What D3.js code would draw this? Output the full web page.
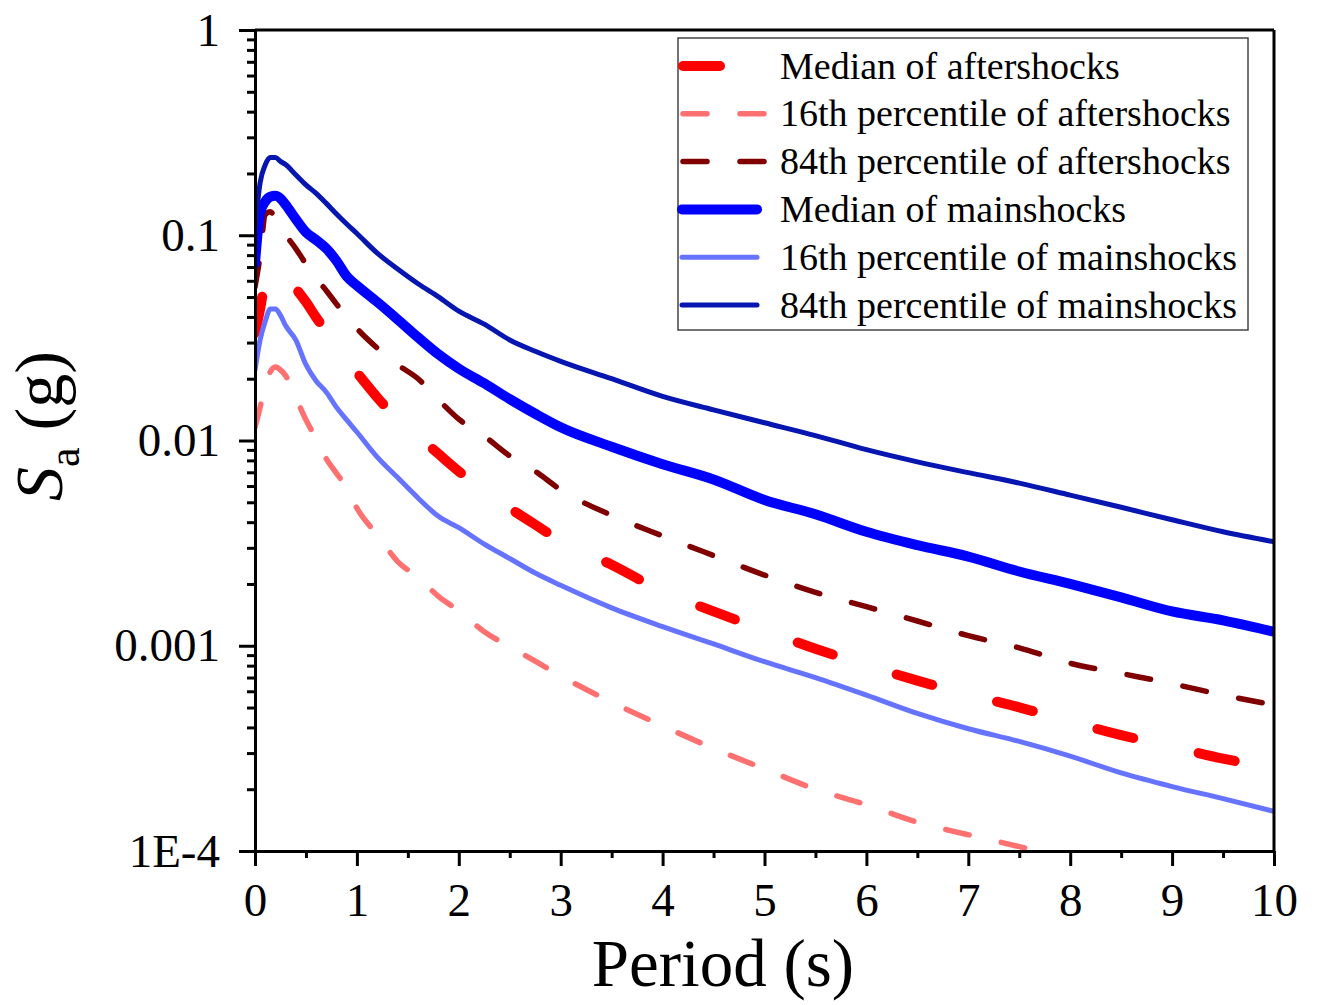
<!DOCTYPE html>
<html>
<head>
<meta charset="utf-8">
<script src="https://cdn.jsdelivr.net/npm/d3@7"></script>
<style>
  html, body { margin: 0; padding: 0; background: #fff; }
  svg { display: block; }
  text { font-family: "Liberation Serif", "Times New Roman", serif; fill: #000; }
</style>
</head>
<body>
<svg id="chart" width="1318" height="1005"></svg>
<script>
// Periods (s) at which the spectra are sampled
const periods = [0, 0.05, 0.1, 0.15, 0.2, 0.25, 0.3, 0.4, 0.5, 0.6, 0.7, 0.8, 0.9, 1.0,
  1.2, 1.4, 1.6, 1.8, 2.0, 2.25, 2.5, 2.75, 3.0, 3.5, 4.0, 4.5, 5.0, 5.5, 6.0, 6.5,
  7.0, 7.5, 8.0, 8.5, 9.0, 9.5, 10];

// Spectral acceleration Sa (g)
const medianAfter = [0.0334, 0.0437, 0.0603, 0.0676, 0.0692, 0.0668, 0.0631, 0.055, 0.0473,
  0.0398, 0.0339, 0.0285, 0.0245, 0.0214, 0.0162, 0.0127, 0.0105, 0.00861, 0.00708, 0.00569,
  0.00468, 0.00389, 0.00324, 0.00248, 0.00184, 0.00147, 0.00119, 0.000966, 0.000805,
  0.000676, 0.000579, 0.000501, 0.000427, 0.000367, 0.000322, 0.000282, 0.000253];

const p16After = [0.0116, 0.0145, 0.0186, 0.0216, 0.0228, 0.0221, 0.0207, 0.0162, 0.0126,
  0.0102, 0.00813, 0.00692, 0.00589, 0.00468, 0.00347, 0.00257, 0.00216, 0.00174, 0.00148,
  0.00117, 0.000989, 0.000841, 0.000713, 0.000531, 0.000407, 0.000316, 0.000251, 0.0002,
  0.000168, 0.000138, 0.00012, 0.000105, 0.0000912, null, null, null, null];

const p84After = [0.056, 0.0794, 0.126, 0.130, 0.1216, 0.112, 0.101, 0.0861, 0.0724, 0.0617,
  0.0537, 0.0462, 0.04, 0.0351, 0.0282, 0.0234, 0.02, 0.0158, 0.0127, 0.0105, 0.00841,
  0.00708, 0.00575, 0.00432, 0.00343, 0.00275, 0.00221, 0.00182, 0.00155, 0.00132,
  0.00112, 0.000977, 0.000822, 0.000733, 0.000653, 0.000575, 0.000514];

const medianMain = [0.0729, 0.128, 0.146, 0.154, 0.1556, 0.151, 0.141, 0.120, 0.1035, 0.0948,
  0.0861, 0.075, 0.0631, 0.0569, 0.0473, 0.0389, 0.0318, 0.0263, 0.0224, 0.019, 0.0159,
  0.0135, 0.0116, 0.00933, 0.00767, 0.00646, 0.00513, 0.00437, 0.00359, 0.00309, 0.00272,
  0.0023, 0.002, 0.00172, 0.00147, 0.00133, 0.00117];

const p16Main = [0.022, 0.0309, 0.038, 0.0437, 0.0437, 0.0407, 0.0363, 0.0309, 0.0234, 0.0195,
  0.0172, 0.0145, 0.0126, 0.011, 0.0083, 0.0066, 0.00525, 0.00427, 0.00376, 0.00313,
  0.00266, 0.00226, 0.00197, 0.00153, 0.00124, 0.00102, 0.000836, 0.0007, 0.000575,
  0.000468, 0.000394, 0.000342, 0.00029, 0.00024, 0.000206, 0.00018, 0.000156];

const p84Main = [0.108, 0.180, 0.220, 0.239, 0.239, 0.229, 0.221, 0.197, 0.176, 0.160, 0.143,
  0.127, 0.1135, 0.102, 0.0818, 0.0684, 0.058, 0.0501, 0.0427, 0.0369, 0.0309, 0.0272,
  0.0243, 0.02, 0.0164, 0.0141, 0.0122, 0.01057, 0.00902, 0.00787, 0.00697, 0.0062,
  0.00542, 0.00473, 0.00411, 0.00359, 0.00321];

const seriesNames = ["Median of aftershocks", "16th percentile of aftershocks",
  "84th percentile of aftershocks", "Median of mainshocks",
  "16th percentile of mainshocks", "84th percentile of mainshocks"];

const xTicks = [0, 1, 2, 3, 4, 5, 6, 7, 8, 9, 10];
const yTicks = [1e-4, 1e-3, 1e-2, 1e-1, 1];
const yTickLabels = ["1E-4", "0.001", "0.01", "0.1", "1"];

// ---- drawing ----
const svg = d3.select("#chart");
const L = 255, R = 1274, T = 30, B = 851;

const x = d3.scaleLinear().domain([0, 10]).range([L, R]);
const y = d3.scaleLog().domain([1e-4, 1]).range([B, T]);

const series = [
  { name: seriesNames[0], values: medianAfter, color: "#ff0000", width: 10, dash: "37,67" },
  { name: seriesNames[1], values: p16After, color: "#ff7070", width: 5.5, dash: "24,33" },
  { name: seriesNames[2], values: p84After, color: "#800000", width: 5.5, dash: "24,33" },
  { name: seriesNames[3], values: medianMain, color: "#0000ff", width: 10, dash: null },
  { name: seriesNames[4], values: p16Main, color: "#6673ff", width: 5, dash: null },
  { name: seriesNames[5], values: p84Main, color: "#0716b0", width: 5, dash: null }
];

svg.append("defs").append("clipPath").attr("id", "plotClip")
  .append("rect").attr("x", L).attr("y", T).attr("width", R - L).attr("height", B - T);

const line = d3.line()
  .defined(d => d[1] != null)
  .x(d => x(d[0]))
  .y(d => y(d[1]))
  .curve(d3.curveMonotoneX);

const plot = svg.append("g").attr("clip-path", "url(#plotClip)");
series.forEach(s => {
  plot.append("path")
    .datum(periods.map((p, i) => [p, s.values[i]]))
    .attr("d", line)
    .attr("fill", "none")
    .attr("stroke", s.color)
    .attr("stroke-width", s.width)
    .attr("stroke-linecap", "round")
    .attr("stroke-linejoin", "round")
    .attr("stroke-dasharray", s.dash);
});

// frame: top and right edges
svg.append("line").attr("x1", L).attr("x2", R).attr("y1", T).attr("y2", T)
  .attr("stroke", "#000").attr("stroke-width", 3);
svg.append("line").attr("x1", R).attr("x2", R).attr("y1", T).attr("y2", B)
  .attr("stroke", "#000").attr("stroke-width", 3);

// y axis (log)
const yMinor = [];
for (let e = -4; e < 0; e++) for (let m = 2; m <= 9; m++) yMinor.push(m * Math.pow(10, e));

const yAxisMinor = svg.append("g").attr("transform", `translate(${L},0)`)
  .call(d3.axisLeft(y).tickValues(yMinor).tickSize(8).tickSizeOuter(0).tickFormat(""));
const yAxis = svg.append("g").attr("transform", `translate(${L},0)`)
  .call(d3.axisLeft(y).tickValues(yTicks).tickSize(16).tickSizeOuter(0).tickPadding(19)
    .tickFormat((d, i) => yTickLabels[i]));

// x axis
const xMinor = d3.range(0.5, 10, 1);
const xAxisMinor = svg.append("g").attr("transform", `translate(0,${B})`)
  .call(d3.axisBottom(x).tickValues(xMinor).tickSize(7).tickSizeOuter(0).tickFormat(""));
const xAxis = svg.append("g").attr("transform", `translate(0,${B})`)
  .call(d3.axisBottom(x).tickValues(xTicks).tickSize(15).tickSizeOuter(0).tickPadding(17)
    .tickFormat(d3.format("d")));

[yAxisMinor, yAxis, xAxisMinor, xAxis].forEach(g => {
  g.selectAll("path.domain").attr("stroke", "#000").attr("stroke-width", 3);
  g.selectAll(".tick line").attr("stroke", "#000").attr("stroke-width", 3);
  g.selectAll(".tick text").style("font-family", "'Liberation Serif', serif")
    .style("font-size", "47px").attr("fill", "#000");
});
yAxis.selectAll(".tick text").attr("dy", "0.32em");

// axis titles
svg.append("text")
  .attr("x", 723).attr("y", 986)
  .attr("text-anchor", "middle")
  .style("font-size", "67px")
  .text("Period (s)");

const yTitle = svg.append("text")
  .attr("transform", "translate(62,426) rotate(-90)")
  .attr("text-anchor", "middle")
  .style("font-size", "68px");
yTitle.append("tspan").style("font-style", "italic").text("S");
yTitle.append("tspan").attr("dy", 17).style("font-size", "44px").text("a");
yTitle.append("tspan").attr("dy", -17).text(" (g)");

// legend
const lg = svg.append("g");
lg.append("rect")
  .attr("x", 678).attr("y", 38).attr("width", 570).attr("height", 292)
  .attr("fill", "#fff").attr("stroke", "#444").attr("stroke-width", 1.5);

const rowY = d3.scalePoint().domain(seriesNames).range([66, 305]);
series.forEach(s => {
  const yy = rowY(s.name);
  lg.append("line")
    .attr("x1", s.dash ? 683 : 682).attr("x2", s.dash ? 768 : 757)
    .attr("y1", yy).attr("y2", yy)
    .attr("stroke", s.color)
    .attr("stroke-width", s.width)
    .attr("stroke-linecap", "round")
    .attr("stroke-dasharray", s.dash);
  lg.append("text")
    .attr("x", 780).attr("y", yy).attr("dy", "0.33em")
    .style("font-size", "38px")
    .text(s.name);
});
</script>
</body>
</html>
